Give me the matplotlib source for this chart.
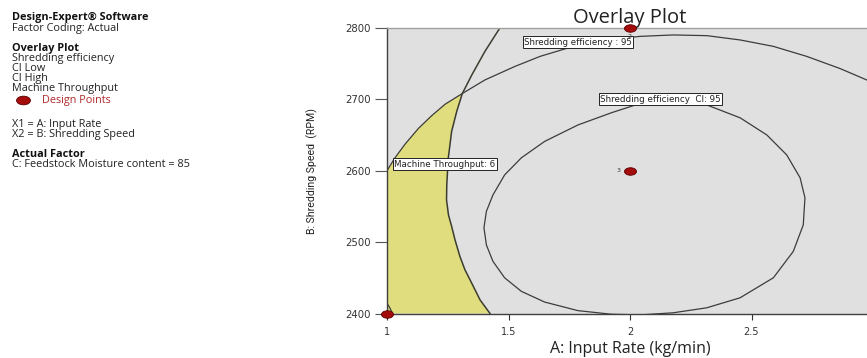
import numpy as np
import matplotlib
matplotlib.use("Agg")
import matplotlib.pyplot as plt
from matplotlib.path import Path
from matplotlib.transforms import Affine2D

# Contour traces of the fitted responses (A: input rate, B: shredding speed)
# Shredding efficiency = 95
eff_x = [1.000, 1.033, 1.074, 1.129, 1.184, 1.239, 1.310, 1.403, 1.527, 1.630,
         1.767, 1.904, 2.041, 2.178, 2.316, 2.453, 2.590, 2.727, 2.864, 2.974,
         3.000]
eff_y = [2600, 2618, 2637, 2659, 2677, 2693, 2708, 2727, 2746, 2760,
         2774, 2783, 2788, 2790, 2789, 2783, 2774, 2760, 2743, 2727,
         2723]

# Shredding efficiency CI = 95
ci_x = [2.041, 1.923, 1.786, 1.649, 1.553, 1.484, 1.436, 1.409, 1.399, 1.409,
        1.436, 1.484, 1.553, 1.649, 1.786, 1.923, 2.041, 2.178, 2.316, 2.453,
        2.563, 2.645, 2.700, 2.720, 2.713, 2.672, 2.590, 2.453, 2.316, 2.178,
        2.041]
ci_y = [2398, 2399, 2404, 2416, 2431, 2450, 2473, 2496, 2520, 2543,
        2566, 2594, 2618, 2641, 2664, 2681, 2694, 2697, 2692, 2674,
        2650, 2622, 2590, 2562, 2524, 2487, 2450, 2422, 2408, 2401,
        2398]

# Machine throughput = 6
thr_x = [1.465, 1.403, 1.349, 1.310, 1.287, 1.266, 1.252, 1.246, 1.245, 1.253,
         1.266, 1.280, 1.300, 1.321, 1.342, 1.383, 1.424]
thr_y = [2800, 2767, 2734, 2708, 2683, 2655, 2617, 2580, 2559, 2538,
         2522, 2503, 2480, 2461, 2447, 2419, 2400]

corner_x = [1.000, 1.010, 1.020]
corner_y = [2414, 2409, 2402]

# Design points
dp_x = [1, 2, 2]
dp_y = [2400, 2800, 2600]
dp_lab = ["", "2", "3"]

x_ticks = [1, 1.5, 2, 2.5]
x_tick_labels = ["1", "1.5", "2", "2.5"]
y_ticks = [2400, 2500, 2600, 2700, 2800]

W, H = 867, 358
fig = plt.figure(figsize=(W / 100, H / 100), dpi=100)
fig.patch.set_facecolor("white")

left, right, top, bottom = 387, 873, 27.8, 313.5
ax = fig.add_axes([left / W, 1 - bottom / H, (right - left) / W, (bottom - top) / H])
ax.set_facecolor("#e0e0e0")
ax.set_xlim(1, 3)
ax.set_ylim(2400, 2800)

# Feasible (yellow) window: left edge, efficiency limit, throughput limit
n_eff = eff_x.index(1.310)
n_thr = thr_x.index(1.310)
poly_x = [1.0] + eff_x[:n_eff + 1] + thr_x[n_thr + 1:]
poly_y = [2400] + eff_y[:n_eff + 1] + thr_y[n_thr + 1:]
ax.fill(poly_x, poly_y, color="#dfdd7e", zorder=1, lw=0)

line_kw = dict(color="#3c3c3c", lw=0.9, zorder=2, solid_joinstyle="round")
ax.plot(eff_x, eff_y, **line_kw)
ax.plot(ci_x, ci_y, **line_kw)
ax.plot(thr_x, thr_y, color="#3c3c30", lw=1.1, zorder=2, solid_joinstyle="round")
ax.plot(corner_x, corner_y, **line_kw)

box = dict(boxstyle="square,pad=0.15", fc="white", ec="#222222", lw=0.7)
ax.text(1.786, 2780, "Shredding efficiency : 95", fontsize=6.2, ha="center",
        va="center", bbox=box, zorder=4, color="#222222")
ax.text(2.125, 2700, "Shredding efficiency  CI: 95", fontsize=6.3, ha="center",
        va="center", bbox=box, zorder=4, color="#222222")
ax.text(1.03, 2609, "Machine Throughput: 6", fontsize=6.3, ha="left",
        va="center", bbox=box, zorder=4, color="#222222")

ellipse = Path.unit_circle().transformed(Affine2D().scale(1.6, 1.0))
ax.scatter(dp_x, dp_y, marker=ellipse, s=75, c="#a50d0d", edgecolors="#5a0000",
           linewidths=0.6, zorder=5, clip_on=False)
for x, y, lab in zip(dp_x, dp_y, dp_lab):
    if lab == "2":
        ax.text(x, y - 9, lab, fontsize=4.5, ha="center", va="top", color="#333333", zorder=5)
    elif lab == "3":
        ax.text(x - 0.04, y, lab, fontsize=4.5, ha="right", va="center", color="#333333", zorder=5)

for side in ["top", "right"]:
    ax.spines[side].set_color("#a0a0a0")
    ax.spines[side].set_linewidth(1.0)
for side in ["left", "bottom"]:
    ax.spines[side].set_color("#404040")
    ax.spines[side].set_linewidth(1.0)

ax.set_xticks(x_ticks)
ax.set_xticklabels(x_tick_labels)
ax.set_yticks(y_ticks)
ax.tick_params(axis="x", length=4.5, width=0.8, color="#333333", pad=5,
               labelsize=7, labelcolor="#333333")
ax.tick_params(axis="y", length=8.5, width=0.8, color="#555555", pad=3,
               labelsize=7.3, labelcolor="#333333")

ax.set_title("Overlay Plot", fontsize=14.5, family="Open Sans", color="#222222", pad=0)
ax.set_xlabel("A: Input Rate (kg/min)", fontsize=11.5, family="Open Sans",
              color="#222222", labelpad=3)
ax.set_ylabel("B: Shredding Speed  (RPM)", fontsize=7.6, family="Roboto",
              color="#222222", labelpad=20)

# Side panel with the design summary
panel = [
    (17.3, "Design-Expert\u00ae Software", True, "#111111"),
    (28.7, "Factor Coding: Actual", False, "#222222"),
    (48.0, "Overlay Plot", True, "#111111"),
    (58.0, "Shredding efficiency", False, "#222222"),
    (68.3, "CI Low", False, "#222222"),
    (78.3, "CI High", False, "#222222"),
    (88.0, "Machine Throughput", False, "#222222"),
    (124.7, "X1 = A: Input Rate", False, "#222222"),
    (134.7, "X2 = B: Shredding Speed", False, "#222222"),
    (154.0, "Actual Factor", True, "#111111"),
    (164.0, "C: Feedstock Moisture content = 85", False, "#222222"),
]
for y, txt, bold, col in panel:
    fig.text(12 / W, 1 - y / H, txt, fontsize=7.8, family="Open Sans",
             fontweight="bold" if bold else "normal", color=col, va="center", ha="left")
fig.text(42 / W, 1 - 100 / H, "Design Points", fontsize=7.8, family="Open Sans",
         color="#b02a2a", va="center", ha="left")
fig.add_artist(plt.Line2D([23 / W], [1 - 100 / H], marker=ellipse, markersize=10,
                          color="#a50d0d", markeredgecolor="#5a0000", markeredgewidth=0.6,
                          transform=fig.transFigure))

fig.savefig("out.png", dpi=100)
